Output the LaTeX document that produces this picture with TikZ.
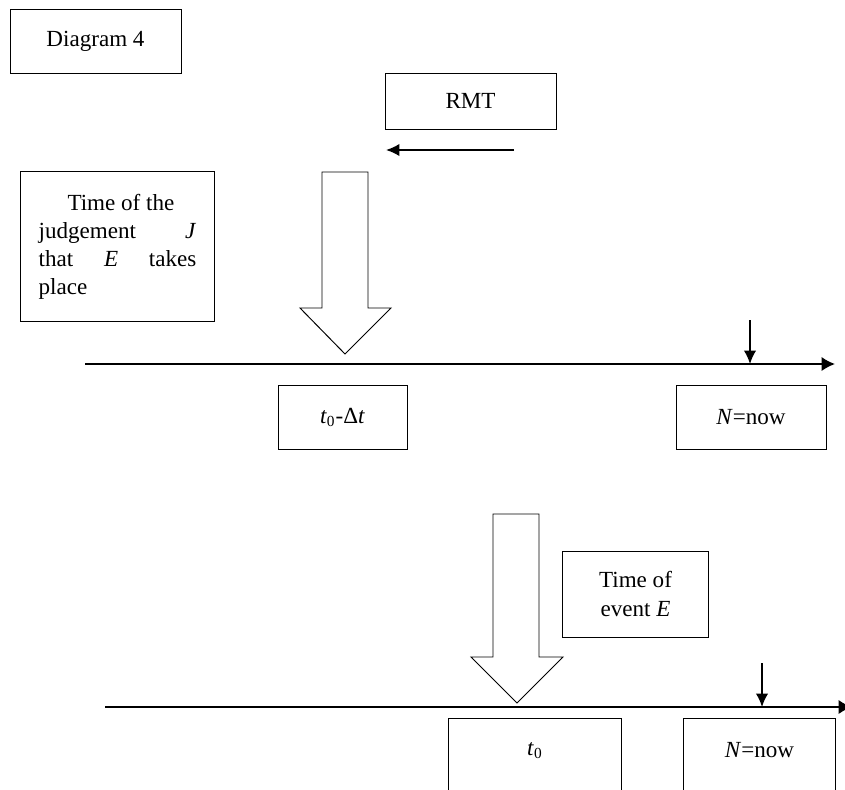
\documentclass[tikz,border=0pt]{standalone}
\usepackage{fontspec}
\setmainfont{Liberation Serif}
\usetikzlibrary{arrows.meta}

\begin{document}
\begin{tikzpicture}[x=0.52pt,y=-0.52pt,font=\fontsize{12}{14.6}\selectfont]
    %
    % `box' is used for the text boxes.
    % `timeline' is used for the two time axes.
    % `marker' is used for the small arrows at now.
    % `hollow' is used for the big open arrows.
    \tikzstyle{box} = [draw,line width=0.5pt,inner sep=0pt]
    \tikzstyle{timeline} = [line width=1pt,-{Latex[length=7pt,width=7.5pt]}]
    \tikzstyle{marker} = [line width=0.9pt,-{Latex[length=7pt,width=6.5pt]}]
    \tikzstyle{hollow} = [draw,line width=0.5pt,fill=white]
    %
    \useasboundingbox (0,0) rectangle (845,789);
    \clip (0,0) rectangle (845,789);
    %
    % Title and RMT
    \node[box,minimum width=88.9pt,minimum height=32.8pt] (title) at (95.5,41.5) {Diagram 4};
    \node[box,minimum width=88.9pt,minimum height=29.1pt] (rmt) at (470.5,101) {RMT};
    \coordinate (rmtA) at (514,150);
    \coordinate (rmtB) at (386,150);
    \draw[marker] (rmtA) -- (rmtB);
    %
    % Upper axis
    \node[box,minimum width=100.4pt,minimum height=78pt] (judge) at (117.5,246.5)
        {\parbox{82pt}{\hspace*{15pt}Time of the\\ judgement\hfill\textit{J}\\ that\hfill\textit{E}\hfill takes\\ place}};
    \draw[hollow] (322,172) -- (368,172) -- (368,308) -- (391,308) -- (345,354)
        -- (300,308) -- (322,308) -- cycle;
    \coordinate (axis1a) at (85,364);
    \coordinate (axis1b) at (835,364);
    \draw[timeline] (axis1a) -- (axis1b);
    \coordinate (now1top) at (750,320);
    \coordinate (now1) at (750,364);
    \draw[marker] (now1top) -- (now1);
    \node[box,minimum width=67.1pt,minimum height=32.8pt] (tdelta) at (342.5,417.5) {\textit{t}\textsubscript{0}-Δ\textit{t}};
    \node[box,minimum width=78pt,minimum height=32.8pt] (nowbox1) at (751,417.5) {\textit{N}=now};
    %
    % Lower axis
    \draw[hollow] (493,514) -- (539,514) -- (539,657) -- (563,657) -- (517,703)
        -- (471,657) -- (493,657) -- cycle;
    \node[box,minimum width=76.4pt,minimum height=44.7pt,align=center] (event) at (635.5,594) {Time of\\ event \textit{E}};
    \coordinate (axis2a) at (105,707);
    \coordinate (axis2b) at (852,707);
    \draw[timeline] (axis2a) -- (axis2b);
    \coordinate (now2top) at (762,663);
    \coordinate (now2) at (762,707);
    \draw[marker] (now2top) -- (now2);
    \node[minimum width=89.4pt,minimum height=32.8pt,inner sep=0pt] (tzero) at (535,750.5) {\textit{t}\textsubscript{0}};
    \draw[box] (tzero.north west) rectangle ([yshift=-12pt]tzero.south east);
    \node[minimum width=78.5pt,minimum height=32.8pt,inner sep=0pt] (nowbox2) at (759.5,750.5) {\textit{N}=now};
    \draw[box] (nowbox2.north west) rectangle ([yshift=-12pt]nowbox2.south east);
    %
\end{tikzpicture}
\end{document}
